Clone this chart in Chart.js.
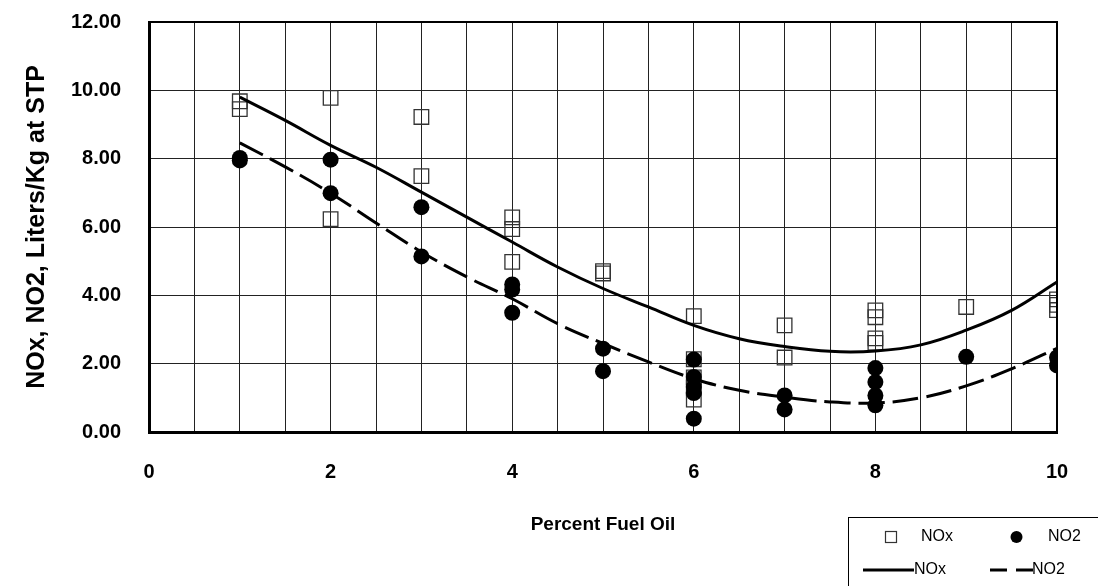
<!DOCTYPE html>
<html>
<head>
<meta charset="utf-8">
<script src="https://cdn.jsdelivr.net/npm/chart.js@4"></script>
<style>
  html, body { margin: 0; padding: 0; background: #fff; }
  #wrap { width: 1098px; height: 586px; }
</style>
</head>
<body>
<div id="wrap"><canvas id="chart" width="1098" height="586"></canvas></div>
<script>
// Mesures NOx (carrés) et NO2 (ronds) par pourcentage de fioul
const noxX = [1, 1, 2, 2, 3, 3, 4, 4, 4, 5, 5, 6, 6, 6, 6, 6, 7, 7, 8, 8, 8, 8, 9, 10, 10, 10];
const noxY = [9.68, 9.45, 9.78, 6.23, 9.22, 7.49, 6.28, 5.94, 4.98, 4.71, 4.64, 3.39, 2.13, 1.6, 1.3, 0.95, 3.12, 2.18, 3.56, 3.36, 2.74, 2.61, 3.66, 3.88, 3.72, 3.57];

const no2X = [1, 1, 2, 2, 3, 3, 4, 4, 4, 5, 5, 6, 6, 6, 6, 6, 7, 7, 8, 8, 8, 8, 9, 10, 10];
const no2Y = [8.02, 7.95, 7.97, 6.99, 6.58, 5.14, 4.32, 4.17, 3.49, 2.44, 1.78, 2.12, 1.61, 1.32, 1.14, 0.39, 1.07, 0.66, 1.87, 1.46, 1.07, 0.78, 2.2, 2.18, 1.95];

// Courbes de tendance
const trendX = [1, 1.5, 2, 2.5, 3, 3.5, 4, 4.5, 5, 5.5, 6, 6.5, 7, 7.5, 8, 8.5, 9, 9.5, 10];
const noxTrend = [9.8, 9.12, 8.39, 7.75, 7.02, 6.29, 5.56, 4.83, 4.2, 3.66, 3.12, 2.73, 2.5, 2.36, 2.37, 2.55, 2.98, 3.56, 4.39];
const no2Trend = [8.46, 7.76, 6.99, 6.12, 5.27, 4.54, 3.9, 3.17, 2.59, 2.05, 1.56, 1.22, 1.02, 0.88, 0.85, 1.0, 1.35, 1.85, 2.45];

const xTicks = [0, 2, 4, 6, 8, 10];
const yTicks = [0, 2, 4, 6, 8, 10, 12];

const toPoints = (xs, ys) => xs.map((x, i) => ({ x: x, y: ys[i] }));

// Cadre noir autour de la zone de tracé
const frame = {
    id: 'frame',
    afterDatasetsDraw(chart) {
        const { ctx, chartArea: a } = chart;
        ctx.save();
        ctx.strokeStyle = '#000';
        ctx.lineWidth = 2;
        ctx.strokeRect(a.left, a.top, a.right - a.left, a.bottom - a.top);
        ctx.restore();
    }
};

// Légende encadrée en bas à droite
const legendBox = {
    id: 'legendBox',
    afterDraw(chart) {
        const ctx = chart.ctx;
        ctx.save();
        ctx.strokeStyle = '#000';
        ctx.lineWidth = 1;
        ctx.strokeRect(848.5, 517.5, 260, 80);

        ctx.font = '16px "Liberation Sans", Arial, sans-serif';
        ctx.fillStyle = '#000';
        ctx.textBaseline = 'middle';

        // ligne 1 : marqueurs
        ctx.strokeStyle = '#333';
        ctx.lineWidth = 1.2;
        ctx.strokeRect(885.5, 531.5, 11, 11);
        ctx.fillText('NOx', 921, 537);
        ctx.beginPath();
        ctx.arc(1016.5, 537, 6, 0, Math.PI * 2);
        ctx.fill();
        ctx.fillText('NO2', 1048, 537);

        // ligne 2 : courbes
        ctx.strokeStyle = '#000';
        ctx.lineWidth = 3;
        ctx.beginPath();
        ctx.moveTo(863, 570);
        ctx.lineTo(914, 570);
        ctx.stroke();
        ctx.fillText('NOx', 914, 570);
        ctx.setLineDash([17, 9]);
        ctx.beginPath();
        ctx.moveTo(990, 570);
        ctx.lineTo(1033, 570);
        ctx.stroke();
        ctx.setLineDash([]);
        ctx.fillText('NO2', 1032, 570);
        ctx.restore();
    }
};

const boldFont = { family: '"Liberation Sans", Arial, sans-serif', size: 20, weight: 'bold' };

new Chart(document.getElementById('chart'), {
    type: 'scatter',
    data: {
        datasets: [
            {
                label: 'NO2',
                data: toPoints(no2X, no2Y),
                pointStyle: 'circle',
                pointRadius: 8,
                pointBackgroundColor: '#000',
                pointBorderColor: '#000',
                pointBorderWidth: 0,
                order: 1
            },
            {
                label: 'NOx',
                data: toPoints(noxX, noxY),
                pointStyle: 'rect',
                pointRadius: 10.3,
                pointBackgroundColor: 'rgba(0,0,0,0)',
                pointBorderColor: '#333',
                pointBorderWidth: 1.3,
                order: 2
            },
            {
                label: 'NOx',
                type: 'line',
                data: toPoints(trendX, noxTrend),
                borderColor: '#000',
                borderWidth: 3,
                pointRadius: 0,
                tension: 0.4,
                fill: false,
                order: 0
            },
            {
                label: 'NO2',
                type: 'line',
                data: toPoints(trendX, no2Trend),
                borderColor: '#000',
                borderWidth: 3,
                borderDash: [26, 8],
                pointRadius: 0,
                tension: 0.4,
                fill: false,
                order: 0
            }
        ]
    },
    options: {
        responsive: false,
        animation: false,
        devicePixelRatio: 1,
        layout: {
            padding: { top: 22, right: 41, bottom: 0, left: 0 }
        },
        plugins: {
            legend: { display: false },
            tooltip: { enabled: false }
        },
        scales: {
            x: {
                type: 'linear',
                min: 0,
                max: 10,
                afterFit: scale => {
                    scale.height = 154;
                    scale.paddingLeft = 0;
                    scale.paddingRight = 0;
                },
                afterBuildTicks: scale => {
                    const t = [];
                    for (let i = 0; i <= 20; i++) t.push({ value: i / 2 });
                    scale.ticks = t;
                },
                ticks: {
                    autoSkip: false,
                    maxRotation: 0,
                    padding: 28,
                    color: '#000',
                    font: boldFont,
                    callback: v => (xTicks.includes(v) ? String(v) : '')
                },
                grid: { color: '#222', lineWidth: 1, drawTicks: false },
                border: { color: '#000', width: 3 },
                title: {
                    display: true,
                    text: 'Percent Fuel Oil',
                    color: '#000',
                    font: { family: '"Liberation Sans", Arial, sans-serif', size: 19, weight: 'bold' },
                    padding: { top: 0, bottom: 50 }
                }
            },
            y: {
                type: 'linear',
                min: 0,
                max: 12,
                afterFit: scale => {
                    scale.width = 149;
                    scale.paddingTop = 0;
                    scale.paddingBottom = 0;
                },
                afterBuildTicks: scale => {
                    scale.ticks = yTicks.map(v => ({ value: v }));
                },
                ticks: {
                    padding: 28,
                    color: '#000',
                    font: boldFont,
                    callback: v => v.toFixed(2)
                },
                grid: { color: '#222', lineWidth: 1, drawTicks: false },
                border: { color: '#000', width: 3 },
                title: {
                    display: true,
                    text: 'NOx, NO2, Liters/Kg at STP',
                    color: '#000',
                    font: { family: '"Liberation Sans", Arial, sans-serif', size: 25, weight: 'bold' },
                    padding: { top: 22, bottom: 0 }
                }
            }
        }
    },
    plugins: [frame, legendBox]
});
</script>
</body>
</html>
